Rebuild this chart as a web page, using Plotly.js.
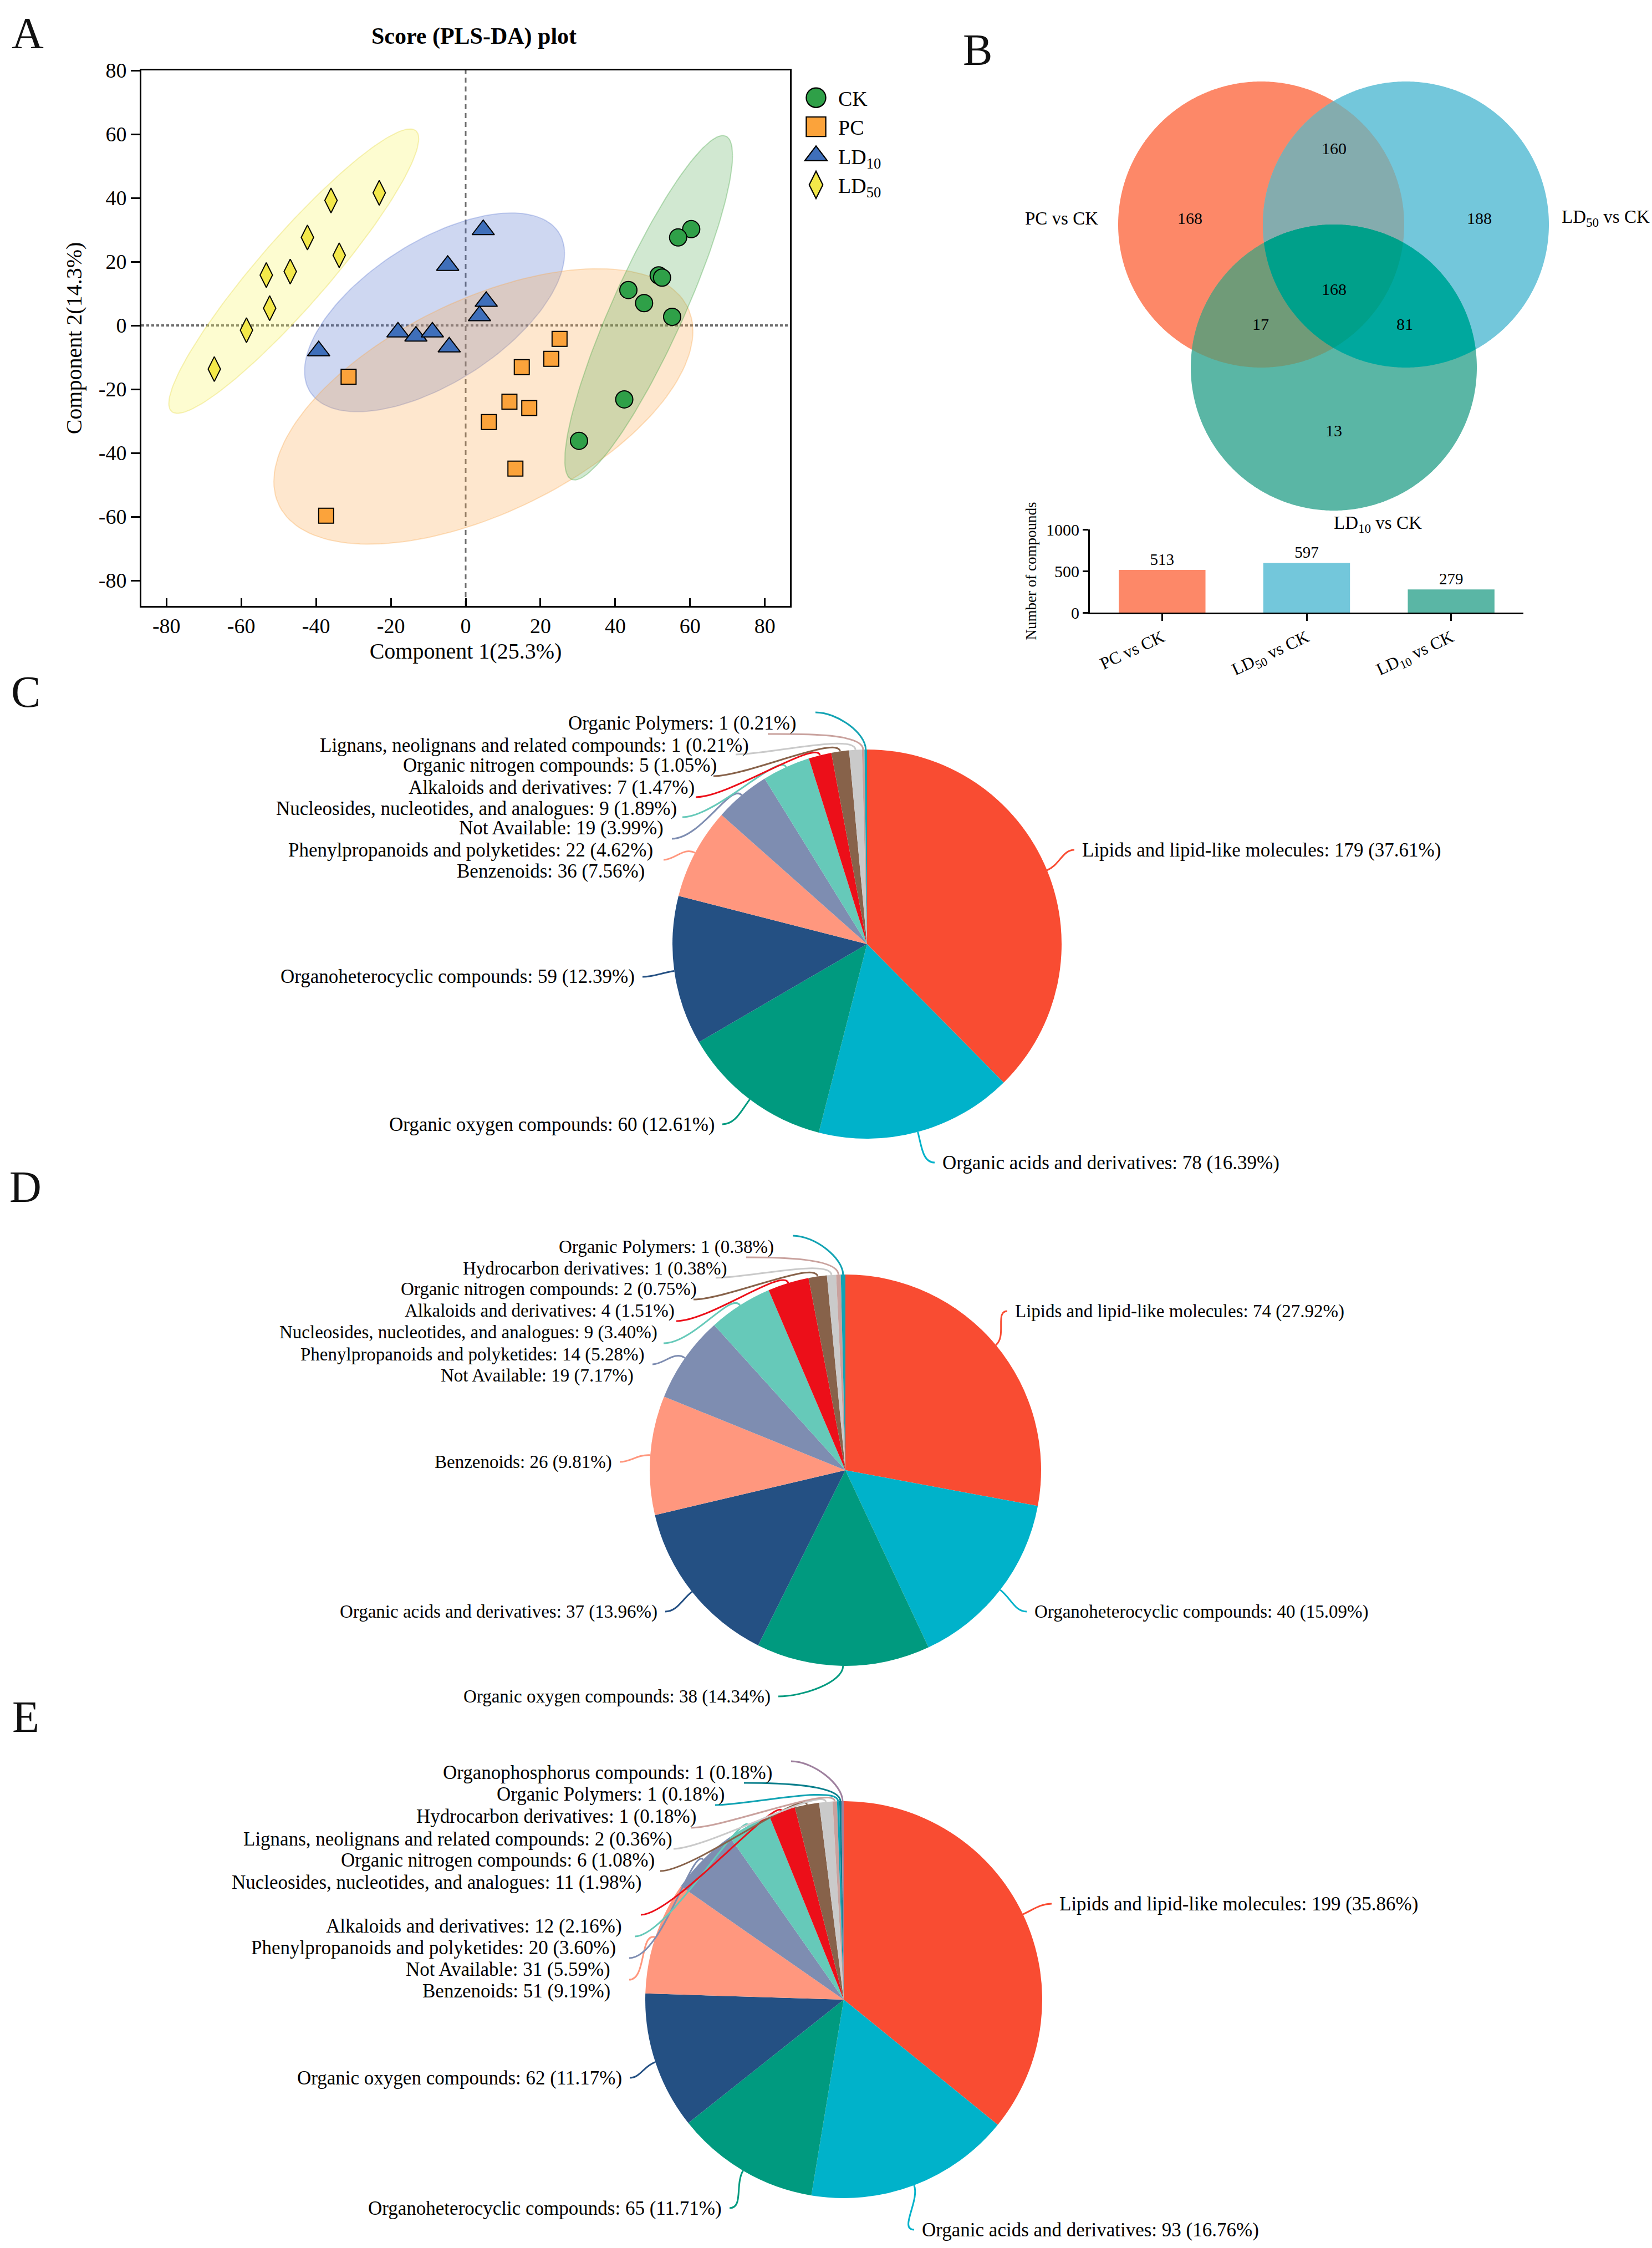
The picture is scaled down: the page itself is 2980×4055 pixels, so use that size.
<!DOCTYPE html>
<html><head><meta charset="utf-8">
<script src="https://cdn.plot.ly/plotly-3.0.1.min.js"></script>
<style>body{margin:0;background:#fff}</style>
</head><body>
<div id="chart" style="width:2980px;height:4055px"></div>
<script>
const W = 2980, H = 4055;
const FONT = 'Liberation Serif, Times New Roman, serif';

// ---------- Panel A data (PLS-DA scores) ----------
const groupNames = ['CK', 'PC', 'LD<sub>10</sub>', 'LD<sub>50</sub>'];
const ckX = [60.3, 56.8, 51.6, 52.5, 43.5, 47.7, 55.2, 42.4, 30.3];
const ckY = [30.2, 27.6, 15.7, 15.0, 11.1, 7.0, 2.7, -23.2, -36.2];
const pcX = [25.1, 22.9, 15.0, -31.3, 11.7, 17.0, 6.2, 13.3, -37.3];
const pcY = [-4.2, -10.5, -13.1, -16.1, -23.9, -25.9, -30.3, -44.9, -59.7];
const ld10X = [4.7, -4.8, 5.5, 3.7, -18.1, -13.3, -8.9, -4.4, -39.3];
const ld10Y = [30.0, 18.8, 7.5, 3.0, -2.1, -3.4, -2.1, -6.8, -8.0];
const ld50X = [-23.1, -36.0, -42.3, -33.8, -53.3, -46.9, -52.4, -58.6, -67.2];
const ld50Y = [41.6, 39.2, 27.6, 22.0, 15.8, 16.9, 5.4, -1.5, -13.7];
const axisTicks = [-80, -60, -40, -20, 0, 20, 40, 60, 80];
const axisTickText = ['-80', '-60', '-40', '-20', '0', '20', '40', '60', '80'];

// ---------- Panel B data ----------
const vennSetNames = ['PC vs CK', 'LD<sub>50</sub> vs CK', 'LD<sub>10</sub> vs CK'];
const vennRegionNames = ['PC only', 'PC & LD50', 'LD50 only', 'PC & LD10', 'all three', 'LD50 & LD10', 'LD10 only'];
const vennRegionValues = [168, 160, 188, 17, 168, 81, 13];
const barCats = ['PC vs CK', 'LD<sub>50</sub> vs CK', 'LD<sub>10</sub> vs CK'];
const barValues = [513, 597, 279];

// ---------- Panels C, D, E data ----------
const cLabels = ['Lipids and lipid-like molecules', 'Organic acids and derivatives', 'Organic oxygen compounds',
  'Organoheterocyclic compounds', 'Benzenoids', 'Phenylpropanoids and polyketides', 'Not Available',
  'Nucleosides, nucleotides, and analogues', 'Alkaloids and derivatives', 'Organic nitrogen compounds',
  'Lignans, neolignans and related compounds', 'Organic Polymers'];
const cValues = [179, 78, 60, 59, 36, 22, 19, 9, 7, 5, 1, 1];

const dLabels = ['Lipids and lipid-like molecules', 'Organoheterocyclic compounds', 'Organic oxygen compounds',
  'Organic acids and derivatives', 'Benzenoids', 'Not Available', 'Phenylpropanoids and polyketides',
  'Nucleosides, nucleotides, and analogues', 'Alkaloids and derivatives', 'Organic nitrogen compounds',
  'Hydrocarbon derivatives', 'Organic Polymers'];
const dValues = [74, 40, 38, 37, 26, 19, 14, 9, 4, 2, 1, 1];

const eLabels = ['Lipids and lipid-like molecules', 'Organic acids and derivatives', 'Organoheterocyclic compounds',
  'Organic oxygen compounds', 'Benzenoids', 'Not Available', 'Phenylpropanoids and polyketides',
  'Alkaloids and derivatives', 'Nucleosides, nucleotides, and analogues', 'Organic nitrogen compounds',
  'Lignans, neolignans and related compounds', 'Hydrocarbon derivatives', 'Organic Polymers',
  'Organophosphorus compounds'];
const eValues = [199, 93, 65, 62, 51, 31, 20, 12, 11, 6, 2, 1, 1, 1];

// ---------- styles / layout helpers ----------
const fx = x => x / W;
const fy = y => 1 - y / H;
const pieColors = ['#F94C32', '#00B2CA', '#009A7F', '#245083', '#FF977E', '#7E8DB1', '#66C9B9',
  '#EC0F19', '#87624A', '#CACACA', '#C9A29E', '#12A3B3', '#0A7F8C', '#9E809E'];

const traces = [];
const shapes = [];
const annotations = [];

// ---- Panel A ----
function confEllipse(xs, ys) {
  const n = xs.length;
  const mx = xs.reduce((a, b) => a + b, 0) / n;
  const my = ys.reduce((a, b) => a + b, 0) / n;
  let sxx = 0, syy = 0, sxy = 0;
  for (let i = 0; i < n; i++) {
    sxx += (xs[i] - mx) ** 2; syy += (ys[i] - my) ** 2; sxy += (xs[i] - mx) * (ys[i] - my);
  }
  sxx /= (n - 1); syy /= (n - 1); sxy /= (n - 1);
  const k = Math.sqrt(5.991);
  const l11 = Math.sqrt(sxx), l21 = sxy / l11, l22 = Math.sqrt(syy - l21 * l21);
  const ex = [], ey = [];
  for (let i = 0; i <= 160; i++) {
    const t = 2 * Math.PI * i / 160, c = Math.cos(t), s = Math.sin(t);
    ex.push(mx + k * l11 * c);
    ey.push(my + k * (l21 * c + l22 * s));
  }
  return [ex, ey];
}
const groupData = [[ckX, ckY], [pcX, pcY], [ld10X, ld10Y], [ld50X, ld50Y]];
const markerColors = ['#2FA048', '#FBA33B', '#3F6FBA', '#F3E84A'];
const markerSymbols = ['circle', 'square', 'triangle-up', 'diamond-tall'];
const markerSizes = [31, 27, 35, 32];
const ellFill = ['rgba(70,165,70,0.25)', 'rgba(250,170,80,0.28)', 'rgba(80,110,205,0.28)', 'rgba(250,245,100,0.30)'];
const ellLine = ['rgba(70,165,70,0.35)', 'rgba(250,170,80,0.35)', 'rgba(80,110,205,0.30)', 'rgba(235,225,100,0.45)'];
[3, 2, 1, 0].forEach(g => {
  const [ex, ey] = confEllipse(groupData[g][0], groupData[g][1]);
  traces.push({type: 'scatter', mode: 'lines', x: ex, y: ey, fill: 'toself', fillcolor: ellFill[g],
    line: {color: ellLine[g], width: 2}, hoverinfo: 'skip', showlegend: false, xaxis: 'x', yaxis: 'y'});
});
groupData.forEach((d, g) => {
  traces.push({type: 'scatter', mode: 'markers', name: groupNames[g], x: d[0], y: d[1], xaxis: 'x', yaxis: 'y',
    marker: {color: markerColors[g], symbol: markerSymbols[g], size: markerSizes[g], line: {color: '#000', width: 2}},
    hoverinfo: 'x+y'});
});
shapes.push({type: 'line', xref: 'x', yref: 'y', x0: 0, x1: 0, y0: -88, y1: 80, layer: 'below',
  line: {color: '#6E6E6E', width: 3, dash: '9px,7px'}});
shapes.push({type: 'line', xref: 'x', yref: 'y', x0: -86.7, x1: 86.7, y0: 0, y1: 0, layer: 'below',
  line: {color: '#6E6E6E', width: 4, dash: '5px,4px'}});

// ---- Panel B : Venn ----
const vennCircles = [{cx: 2275, cy: 405, r: 258}, {cx: 2536, cy: 405, r: 258}, {cx: 2406, cy: 663, r: 258}];
const vennFills = [[[0], '#FD8868'], [[1], '#73C7DB'], [[0, 1], '#84ACAE'], [[2], '#5AB6A5'],
  [[0, 2], '#709B78'], [[1, 2], '#00A89E'], [[0, 1, 2], '#00A08A']];
function interPath(idx) {
  const pts = [];
  idx.forEach(i => {
    const c = vennCircles[i];
    for (let k = 0; k < 720; k++) {
      const a = 2 * Math.PI * k / 720;
      const p = [c.cx + c.r * Math.cos(a), c.cy + c.r * Math.sin(a)];
      const ok = idx.every(j => j === i || Math.hypot(p[0] - vennCircles[j].cx, p[1] - vennCircles[j].cy) <= vennCircles[j].r + 0.01);
      if (ok) pts.push(p);
    }
  });
  const mx = pts.reduce((a, p) => a + p[0], 0) / pts.length;
  const my = pts.reduce((a, p) => a + p[1], 0) / pts.length;
  pts.sort((p, q) => Math.atan2(p[1] - my, p[0] - mx) - Math.atan2(q[1] - my, q[0] - mx));
  return 'M' + pts.map(p => fx(p[0]).toFixed(6) + ',' + fy(p[1]).toFixed(6)).join('L') + 'Z';
}
vennFills.forEach(([idx, col]) => {
  shapes.push({type: 'path', xref: 'paper', yref: 'paper', path: interPath(idx), fillcolor: col,
    line: {width: 0}, layer: 'below'});
});
const vennNumPos = [[2146, 394], [2406, 267], [2668, 394], [2274, 584], [2406, 521], [2534, 584], [2406, 776]];
vennRegionValues.forEach((v, i) => {
  annotations.push({xref: 'paper', yref: 'paper', x: fx(vennNumPos[i][0]), y: fy(vennNumPos[i][1]),
    text: String(v), showarrow: false, xanchor: 'center', yanchor: 'middle', font: {size: 30, family: FONT}});
});
const vennSetPos = [[1915, 394, 'center'], [2815, 394, 'left'], [2404, 945, 'left']];
vennSetNames.forEach((s, i) => {
  annotations.push({xref: 'paper', yref: 'paper', x: fx(vennSetPos[i][0]), y: fy(vennSetPos[i][1]),
    text: s, showarrow: false, xanchor: vennSetPos[i][2], yanchor: 'middle', font: {size: 33, family: FONT}});
});

// ---- Panel B : bar chart ----
traces.push({type: 'bar', x: barCats, y: barValues, xaxis: 'x2', yaxis: 'y2', width: 0.6,
  marker: {color: ['#FD8868', '#73C7DB', '#5AB6A5'], line: {width: 0}},
  text: barValues.map(String), textposition: 'outside', textfont: {size: 29, family: FONT, color: '#000'},
  cliponaxis: false, showlegend: false, hoverinfo: 'x+y'});

// ---- Pies C, D, E ----
const pies = [
  {labels: cLabels, values: cValues, cx: 1564, cy: 1703, r: 351, font: 35, stackFrom: 4,
   pos: [[1950, 1533, 'R'], [1698, 2097, 'R'], [1291, 2028, 'L'], [1147, 1762, 'L'], [1165, 1571, 'L'],
         [1180, 1533, 'L'], [1199, 1494, 'L'], [1223, 1458, 'L'], [1255, 1420, 'L'], [1295, 1381, 'L'],
         [1353, 1344, 'L'], [1439, 1305, 'L']]},
  {labels: dLabels, values: dValues, cx: 1525, cy: 2652, r: 353, font: 33, stackFrom: 5,
   pos: [[1829, 2365, 'R'], [1864, 2907, 'R'], [1392, 3060, 'L'], [1188, 2907, 'L'], [1106, 2637, 'L'],
         [1145, 2481, 'L'], [1165, 2443, 'L'], [1188, 2403, 'L'], [1219, 2364, 'L'], [1259, 2325, 'L'],
         [1314, 2288, 'L'], [1398, 2249, 'L']]},
  {labels: eLabels, values: eValues, cx: 1522, cy: 3607, r: 358, font: 35, stackFrom: 4,
   pos: [[1909, 3434, 'R'], [1661, 4022, 'R'], [1304, 3983, 'L'], [1124, 3748, 'L'], [1103, 3591, 'L'],
         [1103, 3552, 'L'], [1113, 3513, 'L'], [1124, 3474, 'L'], [1159, 3395, 'L'], [1183, 3355, 'L'],
         [1215, 3317, 'L'], [1258, 3276, 'L'], [1310, 3236, 'L'], [1395, 3197, 'L']]}
];
pies.forEach(p => {
  const n = p.values.length;
  traces.push({type: 'pie', labels: p.labels, values: p.values, sort: false, direction: 'clockwise',
    rotation: 0, textinfo: 'none', hoverinfo: 'label+value+percent', showlegend: false,
    marker: {colors: pieColors.slice(0, n), line: {width: 0}},
    domain: {x: [fx(p.cx - p.r), fx(p.cx + p.r)], y: [fy(p.cy + p.r), fy(p.cy - p.r)]}});
  const total = p.values.reduce((a, b) => a + b, 0);
  let cum = 0;
  p.values.forEach((v, i) => {
    const mid = (cum + v / 2) / total * 2 * Math.PI;
    cum += v;
    const u = [Math.sin(mid), -Math.cos(mid)];
    const e0 = [p.cx + p.r * u[0], p.cy + p.r * u[1]];
    const [lx, ly, side] = p.pos[i];
    const stacked = side === 'L' && i >= p.stackFrom;
    const end = side === 'L' ? [lx + 12 + (stacked ? 20 : 0), ly - (stacked ? 20 : 0)] : [lx - 12, ly];
    const d = Math.hypot(end[0] - e0[0], end[1] - e0[1]);
    const a = Math.min(30, d * 0.4), b = Math.min(60, d * 0.35);
    const p1 = [e0[0] + u[0] * a, e0[1] + u[1] * a];
    const p2 = [end[0] + (side === 'L' ? b : -b), end[1]];
    const P = q => fx(q[0]).toFixed(6) + ',' + fy(q[1]).toFixed(6);
    shapes.push({type: 'path', xref: 'paper', yref: 'paper',
      path: 'M' + P(e0) + ' C' + P(p1) + ' ' + P(p2) + ' ' + P(end),
      line: {color: pieColors[i], width: 3}, fillcolor: 'rgba(0,0,0,0)', layer: 'above'});
    const pct = (v / total * 100).toFixed(2);
    annotations.push({xref: 'paper', yref: 'paper', x: fx(lx), y: fy(ly), showarrow: false,
      text: p.labels[i] + ': ' + v + ' (' + pct + '%)', xanchor: side === 'L' ? 'right' : 'left',
      yanchor: 'middle', font: {size: p.font, family: FONT, color: '#000'}});
  });
});

// ---- Panel letters ----
[['A', 50, 60], ['B', 1763, 90], ['C', 46, 1248], ['D', 46, 2141], ['E', 46, 3097]].forEach(([t, x, y]) => {
  annotations.push({xref: 'paper', yref: 'paper', x: fx(x), y: fy(y), text: t, showarrow: false,
    xanchor: 'center', yanchor: 'middle', font: {size: 80, family: FONT, color: '#111'}});
});

const layout = {
  width: W, height: H, autosize: false,
  margin: {l: 0, r: 0, t: 0, b: 0, pad: 0},
  paper_bgcolor: '#ffffff', plot_bgcolor: 'rgba(0,0,0,0)',
  font: {family: FONT, color: '#000'},
  title: {text: '<b>Score (PLS-DA) plot</b>', x: fx(855), y: fy(64), xanchor: 'center', yanchor: 'middle',
    font: {size: 42, family: FONT, color: '#000'}},
  showlegend: true,
  legend: {x: fx(1452), y: fy(145), xanchor: 'left', yanchor: 'top', bgcolor: 'rgba(0,0,0,0)',
    font: {size: 38, family: FONT}, itemclick: false, itemdoubleclick: false},
  xaxis: {domain: [fx(255), fx(1425)], range: [-86.7, 86.7], anchor: 'y', tickvals: axisTicks, ticktext: axisTickText,
    ticks: 'inside', ticklen: 14, tickwidth: 3, tickcolor: '#000', showline: true, linewidth: 3,
    linecolor: '#000', mirror: true, showgrid: false, zeroline: false, tickfont: {size: 38},
    title: {text: 'Component 1(25.3%)', font: {size: 40}, standoff: 12}},
  yaxis: {domain: [fy(1093), fy(127)], range: [-88, 80], anchor: 'x', tickvals: axisTicks, ticktext: axisTickText,
    ticks: 'outside', ticklen: 16, tickwidth: 3, tickcolor: '#000', showline: true, linewidth: 3,
    linecolor: '#000', mirror: true, showgrid: false, zeroline: false, tickfont: {size: 38},
    title: {text: 'Component 2(14.3%)', font: {size: 40}, standoff: 18}},
  xaxis2: {domain: [fx(1966), fx(2748)], anchor: 'y2', type: 'category', range: [-0.5, 2.5],
    ticks: 'outside', ticklen: 12, tickwidth: 3, tickcolor: '#000', showline: true, linewidth: 3,
    linecolor: '#000', showgrid: false, zeroline: false, tickangle: -25, tickfont: {size: 31}},
  yaxis2: {domain: [fy(1105), fy(955)], anchor: 'x2', range: [0, 1000], tickvals: [0, 500, 1000],
    ticks: 'outside', ticklen: 10, tickwidth: 3, tickcolor: '#000', showline: true, linewidth: 3,
    linecolor: '#000', showgrid: false, zeroline: false, tickfont: {size: 30},
    title: {text: 'Number of compounds', font: {size: 27}, standoff: 10}},
  shapes: shapes,
  annotations: annotations
};

Plotly.newPlot('chart', traces, layout, {displayModeBar: false, staticPlot: true}).then(gd => {
  gd.querySelectorAll('.legend [clip-path]').forEach(el => el.removeAttribute('clip-path'));
  const lg = gd.querySelector('.legend');
  if (lg) lg.removeAttribute('clip-path');
  gd.querySelectorAll('.legend .legendpoints path.scatterpts').forEach(p => {
    const t = p.getAttribute('transform') || '';
    p.setAttribute('transform', t + ' scale(2.2)');
    p.style.strokeWidth = '1px';
  });
  gd.querySelectorAll('.legend .legendtext').forEach(t => {
    const x = parseFloat(t.getAttribute('x') || '40');
    t.setAttribute('x', String(x + 20));
    t.querySelectorAll('tspan[x]').forEach(s => {
      const sx = parseFloat(s.getAttribute('x'));
      if (!isNaN(sx)) s.setAttribute('x', String(sx + 20));
    });
  });
});
</script>
</body></html>
